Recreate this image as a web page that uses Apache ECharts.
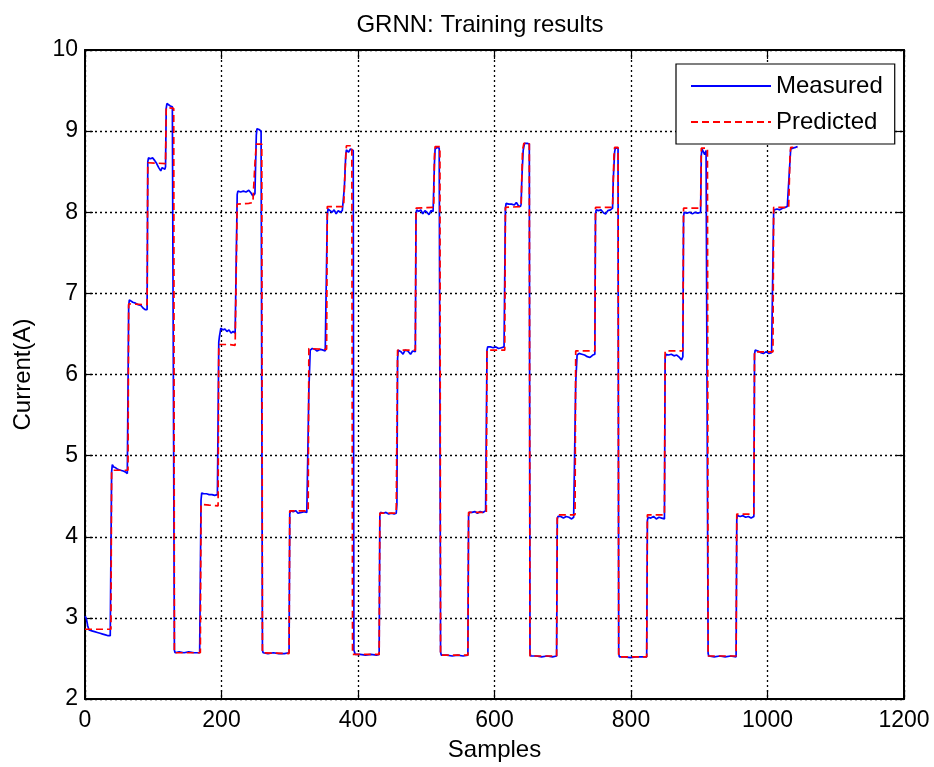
<!DOCTYPE html>
<html>
<head>
<meta charset="utf-8">
<title>GRNN: Training results</title>
<script src="https://cdn.jsdelivr.net/npm/echarts@6/dist/echarts.min.js"></script>
<style>
  html, body { margin: 0; padding: 0; background: #fff; }
  #chart { width: 934px; height: 767px; }
</style>
</head>
<body>
<div id="chart"></div>
<script>
// Axis ticks
const xTicks = [0, 200, 400, 600, 800, 1000, 1200];
const yTicks = [2, 3, 4, 5, 6, 7, 8, 9, 10];

// Measured current: [sample, current(A)]
const measured = [
  [0,3.02],[2,2.99],[4,2.90],[6,2.85],[10,2.84],[14,2.83],[18,2.82],[22,2.81],[26,2.80],[30,2.79],[34,2.78],[37,2.78],[38,2.80],
  [39,4.80],[40,4.89],[42,4.86],[45,4.85],[48,4.83],[52,4.82],[56,4.81],[59,4.80],[62,4.78],[63,4.76],
  [64,6.85],[65,6.92],[67,6.91],[70,6.89],[74,6.88],[78,6.86],[82,6.85],[85,6.82],[88,6.80],[90,6.82],[91,6.80],
  [92,8.62],[93,8.67],[96,8.66],[99,8.67],[102,8.64],[105,8.60],[108,8.55],[111,8.51],[113,8.55],[115,8.56],[117,8.53],[118,8.56],
  [119,9.28],[120,9.34],[122,9.32],[125,9.31],[128,9.30],[130,9.29],
  [131,2.60],[132,2.57],[138,2.58],[145,2.57],[152,2.58],[160,2.57],[168,2.57],[169,2.58],
  [170,4.45],[171,4.54],[174,4.53],[178,4.53],[182,4.52],[186,4.52],[190,4.51],[194,4.52],[195,4.50],
  [196,6.40],[197,6.47],[199,6.57],[202,6.55],[205,6.56],[208,6.53],[211,6.55],[214,6.51],[217,6.53],[220,6.51],[222,6.50],
  [223,8.22],[224,8.26],[228,8.25],[232,8.26],[236,8.25],[240,8.27],[243,8.24],[246,8.20],[248,8.19],[249,8.23],[250,8.22],
  [251,8.95],[252,9.03],[255,9.02],[258,9.00],[259,9.00],
  [260,2.60],[261,2.57],[268,2.56],[276,2.57],[284,2.56],[292,2.56],[299,2.57],
  [300,4.28],[301,4.32],[305,4.31],[309,4.32],[312,4.29],[314,4.27],[317,4.30],[321,4.31],[325,4.30],[327,4.31],
  [328,5.80],[330,6.30],[333,6.32],[337,6.31],[340,6.29],[342,6.27],[345,6.31],[349,6.30],[352,6.29],[354,6.30],
  [355,7.95],[356,8.04],[359,8.02],[362,8.00],[365,8.03],[368,7.98],[371,8.02],[374,8.00],[377,8.02],[379,8.04],
  [380,8.30],[382,8.70],[383,8.77],[386,8.74],[389,8.78],[393,8.76],
  [394,2.60],[396,2.55],[403,2.55],[411,2.54],[419,2.55],[427,2.54],[431,2.55],
  [432,4.26],[433,4.30],[437,4.29],[441,4.30],[445,4.28],[449,4.29],[453,4.28],[456,4.29],
  [457,4.40],[458,6.20],[459,6.30],[463,6.28],[466,6.25],[469,6.30],[473,6.29],[477,6.25],[480,6.29],[484,6.28],
  [485,7.96],[486,8.03],[489,8.01],[492,8.03],[495,7.98],[498,8.02],[501,8.00],[504,7.97],[507,8.02],[510,8.01],[511,8.03],
  [512,8.60],[513,8.78],[516,8.80],[519,8.79],[520,8.80],
  [521,2.58],[522,2.54],[530,2.54],[538,2.53],[546,2.54],[554,2.53],[561,2.54],
  [562,4.25],[563,4.30],[567,4.30],[571,4.31],[575,4.29],[579,4.31],[583,4.30],[587,4.32],[588,4.31],
  [589,6.30],[590,6.34],[594,6.34],[598,6.33],[602,6.34],[606,6.32],[610,6.33],[614,6.34],[615,6.32],
  [616,8.05],[617,8.11],[621,8.10],[625,8.10],[629,8.09],[632,8.12],[635,8.08],[638,8.07],[639,8.10],
  [640,8.40],[642,8.76],[644,8.85],[648,8.85],[651,8.84],
  [652,2.57],[653,2.53],[661,2.53],[669,2.52],[677,2.53],[685,2.52],[691,2.53],
  [692,4.22],[693,4.25],[697,4.25],[701,4.23],[705,4.25],[709,4.24],[713,4.22],[716,4.24],[718,4.23],
  [719,5.90],[721,6.24],[724,6.26],[728,6.25],[732,6.24],[736,6.22],[740,6.21],[744,6.24],[747,6.25],
  [748,7.98],[749,8.03],[752,8.02],[756,8.03],[760,7.99],[763,7.98],[766,8.02],[770,8.03],[773,8.05],
  [774,8.40],[776,8.74],[777,8.79],[779,8.78],[781,8.79],
  [782,2.56],[783,2.52],[791,2.52],[799,2.51],[807,2.52],[815,2.52],[823,2.52],
  [824,4.20],[825,4.24],[829,4.23],[833,4.25],[837,4.22],[841,4.24],[845,4.23],[849,4.22],
  [850,6.20],[851,6.25],[855,6.24],[859,6.25],[863,6.23],[867,6.24],[871,6.21],[874,6.18],[876,6.22],
  [877,7.95],[878,8.00],[882,7.99],[886,8.00],[890,7.98],[894,8.00],[898,7.99],[902,8.00],
  [903,8.70],[904,8.78],[906,8.77],[908,8.71],[910,8.76],[912,8.78],
  [913,2.56],[914,2.53],[922,2.52],[930,2.53],[938,2.52],[946,2.53],[954,2.52],
  [955,4.22],[956,4.26],[960,4.25],[964,4.26],[968,4.24],[972,4.25],[976,4.23],[978,4.22],[980,4.25],
  [981,6.25],[982,6.30],[986,6.29],[990,6.27],[994,6.26],[998,6.28],[1002,6.26],[1006,6.27],[1008,6.28],
  [1009,8.00],[1010,8.03],[1014,8.04],[1018,8.03],[1022,8.05],[1026,8.06],[1029,8.07],[1031,8.07],
  [1032,8.50],[1034,8.78],[1037,8.79],[1041,8.80],[1044,8.81]
];

// GRNN output: [sample, current(A)]
const predicted = [
  [0,2.86],[38,2.86],[39,4.82],[63,4.82],[64,6.87],[91,6.86],[92,8.61],[118,8.60],[119,9.29],[130,9.28],[131,2.57],[169,2.57],
  [170,4.40],[182,4.39],[195,4.38],[196,6.37],[210,6.37],[220,6.36],[222,6.34],[223,8.10],[240,8.11],[246,8.12],[249,8.60],[251,8.84],[259,8.84],[260,2.57],[299,2.56],
  [300,4.32],[327,4.32],[328,6.32],[354,6.31],[355,8.07],[379,8.07],[381,8.50],[383,8.82],[391,8.82],[392,2.55],[431,2.55],
  [432,4.29],[456,4.29],[458,6.30],[484,6.30],[485,8.05],[511,8.06],[512,8.70],[513,8.81],[520,8.81],[521,2.54],[561,2.54],
  [562,4.30],[588,4.30],[589,6.30],[615,6.30],[616,8.06],[639,8.07],[641,8.76],[643,8.85],[651,8.85],[652,2.53],[691,2.53],
  [692,4.27],[718,4.27],[719,6.29],[747,6.29],[748,8.06],[773,8.06],[775,8.70],[776,8.80],[781,8.80],[782,2.52],[823,2.52],
  [824,4.27],[849,4.27],[850,6.29],[876,6.29],[877,8.05],[902,8.05],[903,8.79],[912,8.79],[913,2.53],[954,2.53],
  [955,4.28],[980,4.28],[981,6.28],[1008,6.28],[1009,8.06],[1031,8.06],[1033,8.70],[1034,8.80],[1044,8.80]
];

const FONT = "'Liberation Sans', Arial, Helvetica, sans-serif";

const chart = echarts.init(document.getElementById('chart'), null, { renderer: 'canvas' });

const xMin = xTicks[0], xMax = xTicks[xTicks.length - 1];
const yMin = yTicks[0], yMax = yTicks[yTicks.length - 1];
const xStep = xTicks[1] - xTicks[0];
const yStep = yTicks[1] - yTicks[0];

const axisLine = { show: true, onZero: false, lineStyle: { color: '#000', width: 2 } };
const gridLine = { show: true, lineStyle: { color: '#000', width: 1.3, type: [2, 3] } };
const plainNumber = (v) => String(v);

chart.setOption({
  animation: false,
  backgroundColor: '#fff',
  textStyle: { fontFamily: FONT },
  title: {
    text: 'GRNN: Training results',
    left: 480,
    top: 13,
    padding: 0,
    textAlign: 'center',
    textStyle: { fontFamily: FONT, fontSize: 24, fontWeight: 'normal', color: '#000' }
  },
  grid: { left: 85, right: 30, top: 50, bottom: 68, containLabel: false },
  legend: {
    orient: 'vertical',
    left: 676,
    top: 64,
    padding: [10, 12, 10, 14],
    itemGap: 12,
    itemWidth: 80,
    itemHeight: 12,
    backgroundColor: '#fff',
    borderColor: '#000',
    borderWidth: 1.2,
    borderRadius: 0,
    itemStyle: { opacity: 0 },
    textStyle: { fontFamily: FONT, fontSize: 24, color: '#000', lineHeight: 24 },
    data: ['Measured', 'Predicted']
  },
  xAxis: [
    {
      type: 'value', position: 'bottom', min: xMin, max: xMax, interval: xStep,
      name: 'Samples', nameLocation: 'middle', nameGap: 39,
      nameTextStyle: { fontFamily: FONT, fontSize: 24, color: '#000' },
      axisLine: axisLine,
      axisTick: { show: true, inside: true, length: 9, lineStyle: { color: '#000', width: 1.2 } },
      axisLabel: { show: true, margin: 10, fontFamily: FONT, fontSize: 23, color: '#000', formatter: plainNumber },
      splitLine: gridLine
    },
    {
      type: 'value', position: 'top', min: xMin, max: xMax, interval: xStep,
      axisLine: axisLine,
      axisTick: { show: true, inside: true, length: 9, lineStyle: { color: '#000', width: 1.2 } },
      axisLabel: { show: false },
      splitLine: { show: false }
    }
  ],
  yAxis: [
    {
      type: 'value', position: 'left', min: yMin, max: yMax, interval: yStep,
      name: 'Current(A)', nameLocation: 'middle', nameGap: 50, nameRotate: 90,
      nameTextStyle: { fontFamily: FONT, fontSize: 24, color: '#000' },
      axisLine: axisLine,
      axisTick: { show: true, inside: true, length: 8, lineStyle: { color: '#000', width: 1.2 } },
      axisLabel: { show: true, margin: 7, fontFamily: FONT, fontSize: 23, color: '#000', formatter: plainNumber },
      splitLine: gridLine
    },
    {
      type: 'value', position: 'right', min: yMin, max: yMax, interval: yStep,
      axisLine: axisLine,
      axisTick: { show: true, inside: true, length: 8, lineStyle: { color: '#000', width: 1.2 } },
      axisLabel: { show: false },
      splitLine: { show: false }
    }
  ],
  series: [
    {
      name: 'Measured', type: 'line', xAxisIndex: 0, yAxisIndex: 0,
      data: measured, symbol: 'none', showSymbol: false, smooth: false,
      lineStyle: { color: '#0000ff', width: 1.7, type: 'solid' },
      itemStyle: { color: '#0000ff' },
      z: 2
    },
    {
      name: 'Predicted', type: 'line', xAxisIndex: 0, yAxisIndex: 0,
      data: predicted, symbol: 'none', showSymbol: false, smooth: false,
      lineStyle: { color: '#ff0000', width: 1.7, type: [7, 4] },
      itemStyle: { color: '#ff0000' },
      z: 3
    }
  ]
});
</script>
</body>
</html>
